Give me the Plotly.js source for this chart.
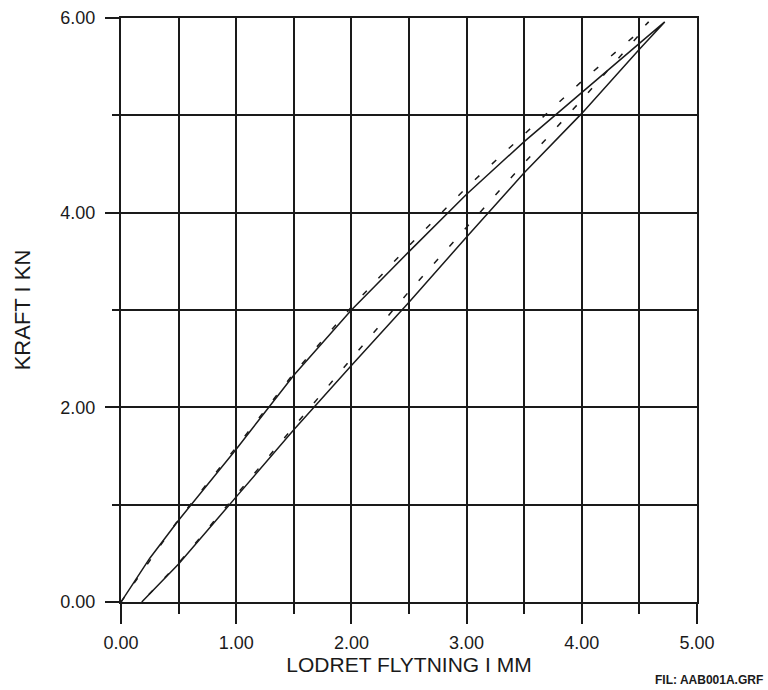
<!DOCTYPE html>
<html>
<head>
<meta charset="utf-8">
<script src="https://cdn.plot.ly/plotly-3.0.1.min.js"></script>
<style>
html,body{margin:0;padding:0;background:#fff;}
#chart{width:768px;height:690px;}
</style>
</head>
<body>
<div id="chart"></div>
<script>
// Solid curve (loading then unloading)
var solidLoadX = [0, 0.25, 0.5, 0.75, 1.0, 1.5, 2.0, 2.5, 3.0, 3.5, 4.0, 4.5, 4.72];
var solidLoadY = [0, 0.45, 0.84, 1.21, 1.57, 2.33, 3.0, 3.6, 4.19, 4.73, 5.24, 5.74, 5.96];
var solidUnloadX = [4.72, 4.5, 4.0, 3.5, 3.0, 2.5, 2.0, 1.5, 1.0, 0.5, 0.18];
var solidUnloadY = [5.96, 5.68, 5.02, 4.41, 3.75, 3.08, 2.43, 1.77, 1.08, 0.39, 0];

// Dashed curve (loading then unloading)
var dashLoadX = [0, 0.5, 1.0, 1.5, 2.0, 2.5, 3.0, 3.5, 4.0, 4.5, 4.58];
var dashLoadY = [0, 0.85, 1.59, 2.35, 3.03, 3.66, 4.26, 4.80, 5.35, 5.86, 5.96];
var dashUnloadX = [4.58, 4.5, 4.0, 3.5, 3.0, 2.5, 2.0, 1.5, 1.0, 0.5, 0.18];
var dashUnloadY = [5.96, 5.83, 5.16, 4.51, 3.85, 3.19, 2.5, 1.8, 1.1, 0.4, 0];

var xTickVals = [0, 1, 2, 3, 4, 5];
var xTickText = ["0.00", "1.00", "2.00", "3.00", "4.00", "5.00"];
var yTickVals = [0, 2, 4, 6];
var yTickText = ["0.00", "2.00", "4.00", "6.00"];

var xTitle = "LODRET FLYTNING I MM";
var yTitle = "KRAFT I KN";
var fileNote = "FIL: AAB001A.GRF";

var ink = "#1a1a1a";
var fontFam = "Liberation Sans, Arial, sans-serif";

var traces = [
  {
    x: solidLoadX.concat(solidUnloadX),
    y: solidLoadY.concat(solidUnloadY),
    mode: "lines",
    line: {color: ink, width: 1.5},
    hoverinfo: "skip"
  },
  {
    x: dashLoadX.concat(dashUnloadX),
    y: dashLoadY.concat(dashUnloadY),
    mode: "lines",
    line: {color: ink, width: 1.5, dash: "6px,17px"},
    hoverinfo: "skip"
  }
];

var layout = {
  width: 768,
  height: 690,
  margin: {l: 121, r: 71, t: 18, b: 88},
  paper_bgcolor: "#fff",
  plot_bgcolor: "#fff",
  showlegend: false,
  font: {family: fontFam, color: ink, size: 18},
  xaxis: {
    range: [0, 5],
    tickmode: "array",
    tickvals: xTickVals,
    ticktext: xTickText,
    ticks: "outside",
    ticklen: 20,
    tickwidth: 2,
    tickcolor: ink,
    ticklabelstandoff: 3,
    tickfont: {size: 18, family: fontFam, color: ink},
    showgrid: true,
    gridcolor: ink,
    gridwidth: 2,
    zeroline: false,
    showline: true,
    linecolor: ink,
    linewidth: 2,
    mirror: true,
    minor: {dtick: 0.5, tick0: 0, ticks: "outside", ticklen: 10, tickwidth: 2, tickcolor: ink, showgrid: true, gridcolor: ink, gridwidth: 2},
    title: {text: xTitle, font: {size: 21, family: fontFam, color: ink}, standoff: 5}
  },
  yaxis: {
    range: [0, 6],
    tickmode: "array",
    tickvals: yTickVals,
    ticktext: yTickText,
    ticks: "outside",
    ticklen: 14,
    tickwidth: 2,
    tickcolor: ink,
    ticklabelstandoff: 6,
    tickfont: {size: 18, family: fontFam, color: ink},
    showgrid: true,
    gridcolor: ink,
    gridwidth: 2,
    zeroline: false,
    showline: true,
    linecolor: ink,
    linewidth: 2,
    mirror: true,
    minor: {dtick: 1, tick0: 0, ticks: "outside", ticklen: 7, tickwidth: 2, tickcolor: ink, showgrid: true, gridcolor: ink, gridwidth: 2},
    title: {text: yTitle, font: {size: 22, family: fontFam, color: ink}, standoff: 24}
  },
  annotations: [
    {
      text: "<b>" + fileNote + "</b>",
      xref: "paper", yref: "paper",
      x: 1.118, y: -0.133,
      xanchor: "right", yanchor: "middle",
      showarrow: false,
      font: {size: 12, family: fontFam, color: ink}
    }
  ]
};

Plotly.newPlot("chart", traces, layout, {staticPlot: true, displayModeBar: false});
</script>
</body>
</html>
